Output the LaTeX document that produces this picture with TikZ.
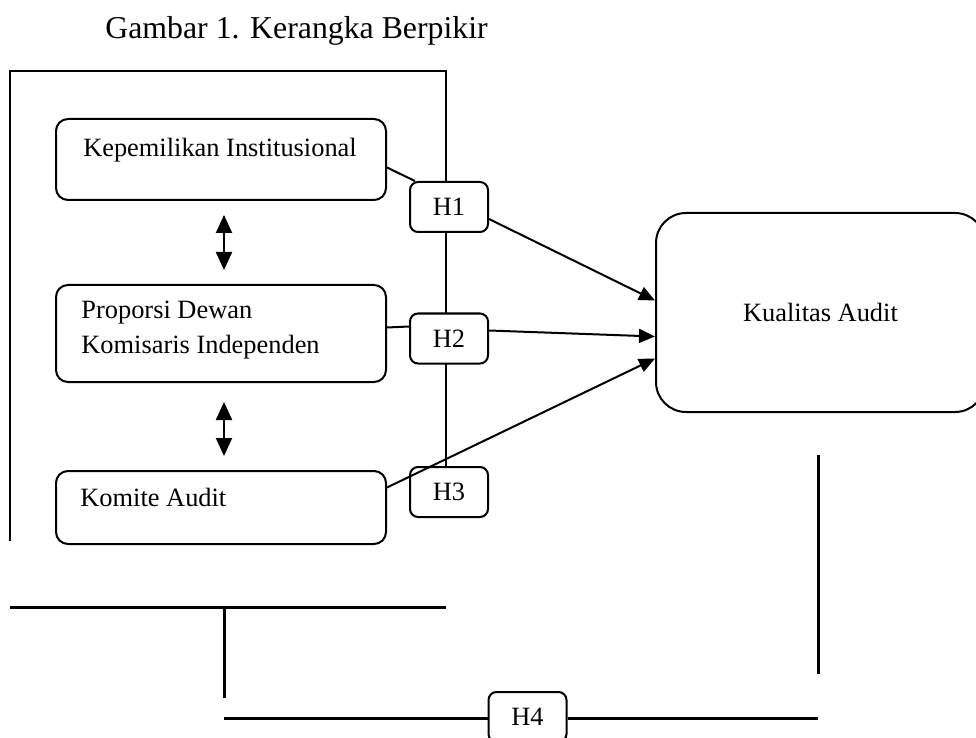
\documentclass[tikz,border=0pt]{standalone}
\usepackage{fontspec}
\setmainfont{Liberation Serif}
\usetikzlibrary{arrows.meta, positioning}

\begin{document}
\begin{tikzpicture}[x=0.5pt, y=-0.5pt,
    font=\fontsize{13.2}{17.5}\selectfont,
    varbox/.style={draw, line width=1pt, rounded corners=6pt,
                   minimum width=165pt, inner sep=0pt},
    hbox/.style={draw, line width=1pt, rounded corners=4pt, fill=white,
                 minimum width=39pt, minimum height=25pt, inner sep=0pt},
    link/.style={line width=1pt},
    arr/.style={line width=1pt, -{Triangle[length=8pt, width=7pt]}},
    dbl/.style={line width=1pt,
                {Triangle[length=9pt, width=8pt]}-{Triangle[length=9pt, width=8pt]}},
    frame/.style={line width=1pt},
    bar/.style={line width=1.5pt}]
  \useasboundingbox (0,0) rectangle (976,738);

  \node[anchor=base west, inner sep=0pt, font=\fontsize{15.9}{19}\selectfont]
        (title) at (105,38.5) {Gambar 1. Kerangka Berpikir};

  % bingkai variabel independen
  \draw[frame] (10,541) -- (10,71) -- (446,71) -- (446,467);

  \node[varbox, minimum height=40.5pt] (kep) at (221,159.5) {};
  \node[varbox, minimum height=48.5pt, below=41.5pt of kep] (prop) {};
  \node[varbox, minimum height=36.5pt, below=43.5pt of prop] (kom) {};

  \node (kepText) at (220,150) {Kepemilikan Institusional};
  \node[anchor=west, align=left, inner sep=0pt] (propText) at (81,330.5)
        {Proporsi Dewan\\Komisaris Independen};
  \node[anchor=west, inner sep=0pt] (komText) at (80,497) {Komite Audit};

  \node[draw, line width=1pt, rounded corners=15pt,
        minimum width=164.5pt, minimum height=99.5pt] (kua) at (820.5,312.5)
        {Kualitas Audit};

  \node[hbox] (h1) at (449,207) {H1};
  \node[hbox] (h2) at (449,338.5) {H2};
  \node[hbox] (h3) at (449,492) {H3};
  \node[hbox] (h4) at (527.5,717) {H4};

  % hipotesis
  \draw[link] ([yshift=-4pt]kep.east) -- ([xshift=3pt]h1.north west);
  \draw[arr] ([yshift=-6pt]h1.east) -- ([yshift=6pt]kua.west);
  \draw[link] ([yshift=3pt]prop.east) -- ([yshift=6pt]h2.west);
  \draw[arr] ([yshift=4pt]h2.east) -- ([yshift=-12pt]kua.west);
  \draw[arr] ([yshift=10pt]kom.east) -- ([yshift=-23pt]kua.west);

  \draw[dbl, shorten <=7pt, shorten >=7pt]
        ([xshift=1.5pt]kep.south) -- ([xshift=1.5pt]prop.north);
  \draw[dbl, shorten <=9.5pt, shorten >=7pt]
        ([xshift=1.5pt]prop.south) -- ([xshift=1.5pt]kom.north);

  % H4 (simultan)
  \coordinate (h4l) at (224,718);
  \coordinate (h4r) at (818,718);
  \draw[bar] (10,607) -- (446,607);
  \draw[bar] (224,607) -- (224,698);
  \draw[bar] (818,455) -- (818,674);
  \draw[bar] (h4l) -- (h4l -| h4.west);
  \draw[bar] (h4r -| h4.east) -- (h4r);
\end{tikzpicture}
\end{document}
